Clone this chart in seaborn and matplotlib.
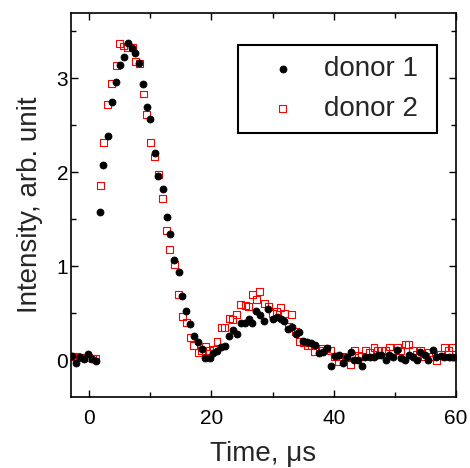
import numpy as np
import pandas as pd
import matplotlib
matplotlib.use("Agg")
import matplotlib.pyplot as plt
import matplotlib.ticker as mticker
import seaborn as sns

# ── Data ──────────────────────────────────────────────────────────────────────
time_us = [-2.8, -2.1, -1.5, -0.9, -0.2, 0.5, 1.1,
           1.8, 2.3, 3.0, 3.7, 4.4, 5.0, 5.6, 6.3, 7.0, 7.5, 8.2, 8.8, 9.4, 10.0,
           10.7, 11.3, 12.0, 12.7, 13.2, 13.9, 14.6, 15.2, 15.9, 16.5, 17.1, 17.8,
           18.4, 19.0, 19.7, 20.3, 20.9, 21.6, 22.2, 22.9, 23.5, 24.1, 24.8, 25.5,
           26.1, 26.7, 27.3, 27.9, 28.6, 29.3, 30.0, 30.7, 31.3, 31.9, 32.6, 33.1,
           33.8, 34.4, 35.0, 35.7, 36.3, 36.9, 37.6, 38.2, 38.9, 39.5, 40.2, 40.8,
           41.5, 42.1, 42.8, 43.4, 44.0, 44.6, 45.2, 45.9, 46.6, 47.2, 47.8, 48.5,
           49.1, 49.7, 50.4, 51.0, 51.7, 52.3, 52.9, 53.6, 54.2, 54.9, 55.5, 56.2,
           56.8, 57.5, 58.1, 58.8, 59.5]

donor1 = [0.045, -0.035, 0.035, 0.01, 0.064, 0.01, -0.01,
          1.58, 2.08, 2.38, 2.74, 2.96, 3.14, 3.22, 3.375, 3.315, 3.27, 3.16, 2.94,
          2.69, 2.56, 2.20, 1.96, 1.82, 1.52, 1.34, 1.06, 0.94, 0.68, 0.52, 0.38,
          0.26, 0.195, 0.117, 0.02, 0.02, 0.08, 0.10, 0.14, 0.146, 0.26, 0.32, 0.28,
          0.40, 0.40, 0.44, 0.40, 0.52, 0.48, 0.42, 0.54, 0.44, 0.46, 0.44, 0.42,
          0.33, 0.35, 0.28, 0.30, 0.205, 0.19, 0.18, 0.16, 0.08, 0.09, 0.125, -0.06,
          0.04, 0.06, -0.025, 0.035, 0.09, 0.0, 0.007, -0.06, 0.035, 0.035, 0.03,
          0.05, 0.06, 0.0, 0.05, 0.035, 0.106, 0.018, 0.0, 0.06, 0.03, 0.0, 0.09,
          0.05, 0.0, 0.106, 0.03, 0.04, 0.035, 0.03, 0.03]

donor2 = [0.04, 0.04, 0.03, 0.03, 0.03, 0.02, 0.02,
          1.86, 2.31, 2.72, 2.94, 3.13, 3.37, 3.34, 3.32, 3.32, 3.18, 3.15, 2.83,
          2.61, 2.31, 2.16, 1.97, 1.72, 1.375, 1.18, 1.02, 0.70, 0.46, 0.40, 0.24,
          0.16, 0.08, 0.106, 0.15, 0.106, 0.11, 0.195, 0.35, 0.35, 0.44, 0.43, 0.49,
          0.59, 0.58, 0.57, 0.70, 0.65, 0.73, 0.60, 0.57, 0.50, 0.52, 0.56, 0.50,
          0.36, 0.49, 0.30, 0.195, 0.19, 0.16, 0.16, 0.09, 0.10, 0.125, 0.12, 0.106,
          0.04, -0.01, 0.04, 0.03, -0.05, 0.106, 0.05, 0.04, 0.106, 0.08, 0.135,
          0.10, 0.106, 0.106, 0.14, 0.07, 0.135, 0.10, 0.167, 0.167, 0.106, 0.06,
          0.106, 0.035, 0.08, 0.04, 0.0, 0.06, 0.135, 0.10, 0.135]

# ── Style ─────────────────────────────────────────────────────────────────────
sns.set_theme(style="ticks")
plt.rcParams["font.family"] = ["Liberation Sans", "DejaVu Sans"]

fig = plt.figure(figsize=(4.70, 4.68), dpi=100)
ax = fig.add_axes([0.151, 0.152, 0.819, 0.820])

# donor 2 underneath, donor 1 on top
sns.scatterplot(x=time_us, y=donor2, ax=ax, marker="s", s=25, color="red",
                facecolors="none", edgecolor="red", linewidth=0.8,
                label="donor 2", zorder=2)
sns.scatterplot(x=time_us, y=donor1, ax=ax, marker="o", s=26, color="black",
                edgecolor="black", linewidth=0.5, label="donor 1", zorder=3)

ax.set_xlim(-3, 60)
ax.set_ylim(-0.39, 3.69)
ax.xaxis.set_major_locator(mticker.MultipleLocator(20))
ax.xaxis.set_minor_locator(mticker.MultipleLocator(10))
ax.yaxis.set_major_locator(mticker.MultipleLocator(1))
ax.yaxis.set_minor_locator(mticker.MultipleLocator(0.5))

ax.tick_params(which="both", direction="in", top=True, right=True,
               colors="black", width=1.0, labelsize=15)
ax.tick_params(which="major", length=5)
ax.tick_params(which="minor", length=3.5)
ax.tick_params(axis="x", which="major", pad=9)
ax.tick_params(axis="y", which="major", pad=2)
for sp in ax.spines.values():
    sp.set_visible(True)
    sp.set_color("black")
    sp.set_linewidth(1.2)

ax.set_xlabel("Time, μs", fontsize=20, labelpad=9)
ax.set_ylabel("Intensity, arb. unit", fontsize=20, labelpad=10)

handles, labels = ax.get_legend_handles_labels()
order = [labels.index("donor 1"), labels.index("donor 2")]
leg = ax.legend([handles[i] for i in order], ["donor 1 ", "donor 2 "],
                loc="upper right", bbox_to_anchor=(0.951, 0.917),
                borderaxespad=0, fontsize=20, frameon=True, fancybox=False,
                framealpha=1, edgecolor="black", handlelength=2.4,
                handletextpad=0.3, borderpad=0.4, labelspacing=0.5)
leg.get_frame().set_linewidth(1.5)

fig.savefig("out.png", dpi=100, facecolor="white")
